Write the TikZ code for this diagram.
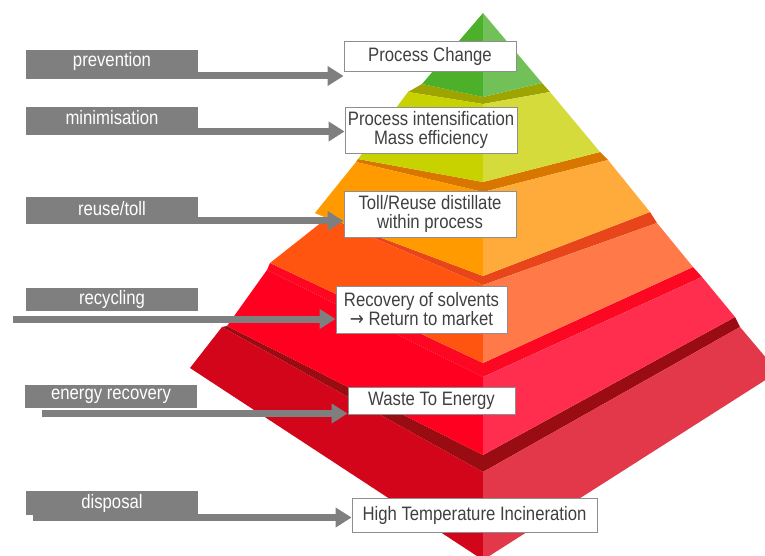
\documentclass[tikz,border=0pt]{standalone}
\usepackage{fontspec}
\setmainfont{Liberation Sans}
\newfontfamily\narrowsf[FakeStretch=0.86]{Liberation Sans}
\newfontfamily\arrowsf[FakeStretch=0.86]{DejaVu Sans}
\usetikzlibrary{arrows.meta}
\definecolor{labelgray}{HTML}{7F7F7F}
\definecolor{framegray}{HTML}{8E8E8E}
\definecolor{textgray}{HTML}{404040}
\definecolor{greenL}{HTML}{4CB02A}
\definecolor{greenR}{HTML}{72C158}
\definecolor{limeL}{HTML}{C8D200}
\definecolor{limeR}{HTML}{D6DB3C}
\definecolor{limeT}{HTML}{9EA400}
\definecolor{amberL}{HTML}{FF9A00}
\definecolor{amberR}{HTML}{FFAB3B}
\definecolor{amberT}{HTML}{D97600}
\definecolor{tangL}{HTML}{FF5511}
\definecolor{tangR}{HTML}{FF7A48}
\definecolor{tangT}{HTML}{E8461A}
\definecolor{redL}{HTML}{FF0020}
\definecolor{redR}{HTML}{FF2E4F}
\definecolor{redT}{HTML}{FC0823}
\definecolor{baseL}{HTML}{D2051A}
\definecolor{baseR}{HTML}{E33849}
\definecolor{baseT}{HTML}{990C12}
\begin{document}
\begin{tikzpicture}[x=1bp, y=-1bp,
    lvl/.style={fill=labelgray, text=white, minimum width=172bp, inner sep=0pt,
      font=\narrowsf\fontsize{19.5}{19}\selectfont},
    stage/.style={draw=framegray, line width=0.9bp, fill=white, text=textgray,
      align=center, inner sep=0pt, font=\narrowsf\fontsize{19.5}{19}\selectfont},
    flow/.style={draw=labelgray, line width=7bp, -{Triangle[length=16bp, width=19bp]}}]
  \useasboundingbox (0,0) rectangle (765,556);
  \begin{scope}
    \clip (0,0) rectangle (765,556);
    \fill[baseT] (222,327) -- (483,472) -- (740,327) -- (735,317) -- (483,455) -- (227,326) -- cycle;
    \fill[baseL] (222,327) -- (483,472) -- (483,560) -- (190,368) -- cycle;
    \fill[baseR] (483,472) -- (740,327) -- (778,372) -- (483,560) -- cycle;
    \fill[redT] (267,270) -- (483,377) -- (702,277) -- (693,267) -- (483,363) -- (270,263) -- cycle;
    \fill[redL] (267,270) -- (483,377) -- (483,455) -- (227,326) -- cycle;
    \fill[redR] (483,377) -- (702,277) -- (735,317) -- (483,455) -- cycle;
    \fill[tangT] (327,218) -- (483,285) -- (657,223) -- (650,212) -- (483,276) -- (315,213) -- cycle;
    \fill[tangL] (327,218) -- (483,285) -- (483,363) -- (270,263) -- cycle;
    \fill[tangR] (483,285) -- (657,223) -- (693,267) -- (483,363) -- cycle;
    \fill[amberT] (356,162) -- (483,192) -- (608,160) -- (600,152) -- (483,182) -- (358,159) -- cycle;
    \fill[amberL] (356,162) -- (483,192) -- (483,276) -- (315,213) -- cycle;
    \fill[amberR] (483,192) -- (608,160) -- (650,212) -- (483,276) -- cycle;
    \fill[limeT] (408,92) -- (483,104) -- (550,92) -- (542,83) -- (483,97) -- (422,84) -- cycle;
    \fill[limeL] (408,92) -- (483,104) -- (483,182) -- (358,159) -- cycle;
    \fill[limeR] (483,104) -- (550,92) -- (600,152) -- (483,182) -- cycle;
    \fill[greenL] (483,13) -- (483,97) -- (422,84) -- cycle;
    \fill[greenR] (483,13) -- (542,83) -- (483,97) -- cycle;
  \end{scope}

  \node[stage, minimum width=172bp, minimum height=30bp] (change) at (430,56) {Process Change};
  \node[stage, minimum width=172bp, minimum height=46bp] (intens) at (431,130) {Process intensification\\Mass efficiency};
  \node[stage, minimum width=172bp, minimum height=46bp] (toll) at (430,214) {Toll/Reuse distillate\\within process};
  \node[stage, minimum width=171bp, minimum height=47bp] (recov) at (421.5,309.5) {Recovery of solvents\\{\arrowsf →} Return to market};
  \node[stage, minimum width=167bp, minimum height=27bp] (wte) at (431.5,400.5) {Waste To Energy};
  \node[stage, minimum width=245bp, minimum height=34bp] (hti) at (474.5,515) {High Temperature Incineration};

  \coordinate (f1) at (26,76);
  \coordinate (f2) at (26,131.5);
  \coordinate (f3) at (26,221);
  \coordinate (f4) at (13,319);
  \coordinate (f5) at (42,413.5);
  \coordinate (f6) at (33,517.5);
  \draw[flow] (f1) -- (f1 -| change.west);
  \draw[flow] (f2) -- (f2 -| intens.west);
  \draw[flow] (f3) -- (f3 -| toll.west);
  \draw[flow] (f4) -- (f4 -| recov.west);
  \draw[flow] (f5) -- (f5 -| wte.west);
  \draw[flow] (f6) -- (f6 -| hti.west);

  \node[lvl, minimum height=22bp] (prev) at (112,61) {prevention};
  \node[lvl, minimum height=21bp] (mini) at (112,117.5) {minimisation};
  \node[lvl, minimum height=23bp] (reuse) at (112,208.5) {reuse/toll};
  \node[lvl, minimum height=23bp] (recyc) at (112,299.5) {recycling};
  \node[lvl, minimum height=23bp] (energy) at (111,396.5) {energy recovery};
  \node[lvl, minimum height=24bp] (disp) at (112,503) {disposal};
\end{tikzpicture}
\end{document}
